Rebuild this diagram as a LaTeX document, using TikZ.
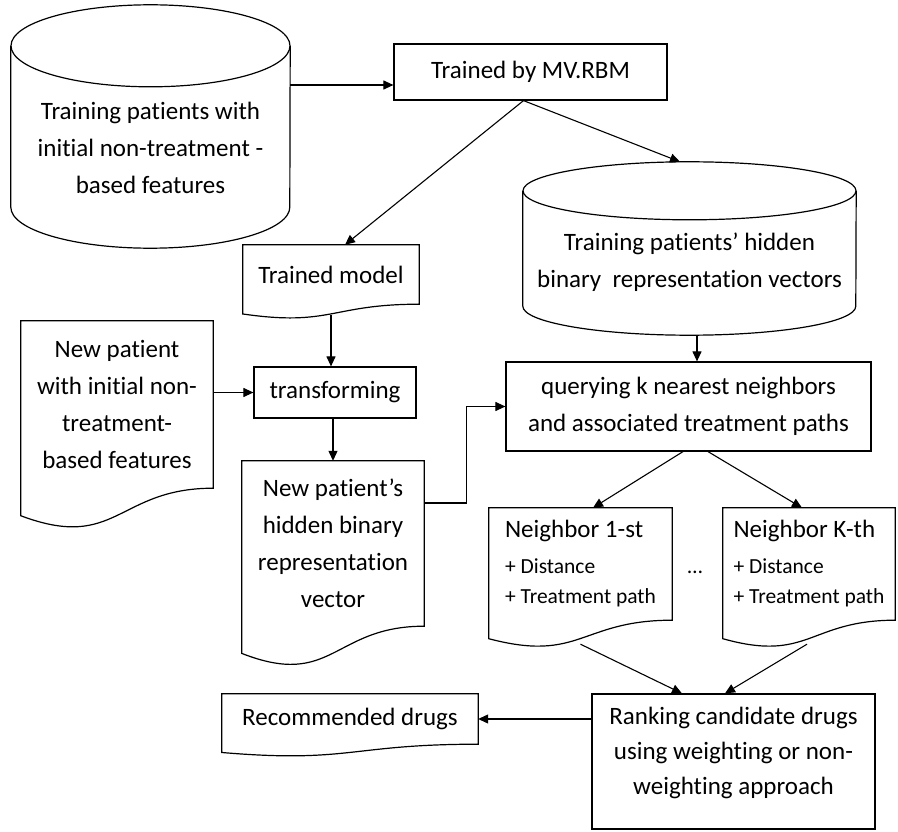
\documentclass[tikz,border=0pt]{standalone}
\usepackage{fontspec}
\setmainfont{Carlito}[Ligatures=NoCommon]
\usetikzlibrary{arrows.meta,calc}

\tikzset{
  shapeline/.style={line width=1.2pt, line join=miter},
  arr/.style={line width=1.1pt, -{Triangle[length=10pt,width=9pt]}},
  box/.style={draw, shapeline, rectangle, inner sep=0pt, align=center},
  body/.style={rectangle, inner sep=0pt, align=center},
  txt/.style={font=\fontsize{25}{37}\selectfont},
  small/.style={font=\fontsize{21.5}{30}\selectfont},
}

% outline of a flowchart "document" symbol around a body node
\newcommand{\docoutline}[1]{%
  \draw[shapeline] (#1.north west) -- (#1.north east) -- (#1.south east)
    .. controls (#1.south) and ($(#1.north)!1.3803!(#1.south)$)
    .. ($(#1.north west)!1.1646!(#1.south west)$) -- cycle;}

\begin{document}
\begin{tikzpicture}[x=1pt,y=-1pt]
\useasboundingbox (0,0) rectangle (898,832);

% ---- database: training patients
\node[body, minimum width=279pt, minimum height=161pt] (c1) at (150.5,126.5) {};
\draw[shapeline] (c1.north west) -- (c1.south west)
  arc[start angle=180, end angle=360, x radius=139.5pt, y radius=41pt] -- (c1.north east);
\draw[shapeline] (c1.north) ellipse[x radius=139.5pt, y radius=41pt];
\node[txt, align=center] (c1t) at ([yshift=-21pt]c1.center)
  {Training patients with\\initial non-treatment -\\based features};

% ---- training step
\node[box, txt, minimum width=273pt, minimum height=56pt] (tb) at (530.5,72) {Trained by MV.RBM};

% ---- database: hidden vectors
\node[body, minimum width=333pt, minimum height=115pt] (c2) at (689.5,248.5) {};
\draw[shapeline] (c2.north west) -- (c2.south west)
  arc[start angle=180, end angle=360, x radius=166.5pt, y radius=29pt] -- (c2.north east);
\draw[shapeline] (c2.north) ellipse[x radius=166.5pt, y radius=29pt];
\node[txt, align=center] (c2t) at ([yshift=-13.5pt]c2.center)
  {Training patients’ hidden\\binary~~representation vectors};

% ---- documents
\node[body, txt, minimum width=176pt, minimum height=59pt] (tm) at (331,274.5) {Trained model};
\docoutline{tm}

\node[body, txt, minimum width=192pt, minimum height=167pt] (np) at (117,404.5)
  {New patient\\with initial non-\\treatment-\\based features};
\docoutline{np}

\node[box, txt, minimum width=162pt, minimum height=51pt] (tr) at (335,392.5) {transforming};

\node[body, txt, minimum width=182pt, minimum height=165pt] (nh) at (333,543.5)
  {New patient’s\\hidden binary\\representation\\vector};
\docoutline{nh}

\node[box, txt, minimum width=365pt, minimum height=89pt] (q) at (688.5,406.5)
  {querying k nearest neighbors\\and associated treatment paths};

\node[body, small, minimum width=183pt, minimum height=112pt, align=left] (n1) at (580.5,564)
  {{\fontsize{25}{30}\selectfont Neighbor 1-st}\\[6pt]
   + Distance\\
   + Treatment path};
\docoutline{n1}

\node[body, small, minimum width=172pt, minimum height=112pt, align=left] (nk) at (809,564)
  {{\fontsize{25}{30}\selectfont Neighbor K-th}\\[6pt]
   + Distance\\
   + Treatment path};
\docoutline{nk}

\node[small] (dots) at (695,572) {…};

\node[box, minimum width=283pt, minimum height=135pt] (rk) at (733.5,761.5) {};
\node[align=center, font=\fontsize{25}{35}\selectfont] (rkt) at ([yshift=9pt]rk.center)
  {Ranking candidate drugs\\using weighting or non-\\weighting approach};

\node[body, txt, minimum width=256pt, minimum height=50pt] (rd) at (350,719) {Recommended drugs};
\docoutline{rd}

% ---- connectors
\coordinate (c1r) at ([yshift=41.5pt]c1.east);
\draw[arr] (c1r) -- (c1r -| tb.west);

\coordinate (tbs) at ([xshift=-7pt]tb.south);
\draw[arr] (tbs) -- ([xshift=14pt]tm.north);
\draw[arr] (tbs) -- ([xshift=-9.5pt,yshift=29pt]c2.north);

\coordinate (tmw) at ([yshift=-11pt]tm.south);
\draw[arr] (tmw) -- (tmw |- tr.north);

\draw[arr] (tr.west -| np.east) -- (tr.west);
\draw[arr] (tr.south -| nh.north) -- (nh.north);

\draw[arr] ([yshift=40.5pt]nh.east) -- ++(42,0) |- (q.west);

\coordinate (c2b) at ([xshift=7.5pt,yshift=-29pt]c2.south);
\draw[arr] (c2b) -- (c2b |- q.north);

\draw[arr] ([xshift=-5.5pt]q.south) -- ([xshift=12.5pt]n1.north);
\draw[arr] ([xshift=19.5pt]q.south) -- ([xshift=-7pt]nk.north);

\draw[arr] ([yshift=-24pt]n1.south) -- ([xshift=-51.5pt]rk.north);
\draw[arr] ([xshift=-2pt,yshift=-24pt]nk.south) -- ([xshift=-8.5pt]rk.north);

\draw[arr] (rd.east -| rk.west) -- (rd.east);
\end{tikzpicture}
\end{document}
